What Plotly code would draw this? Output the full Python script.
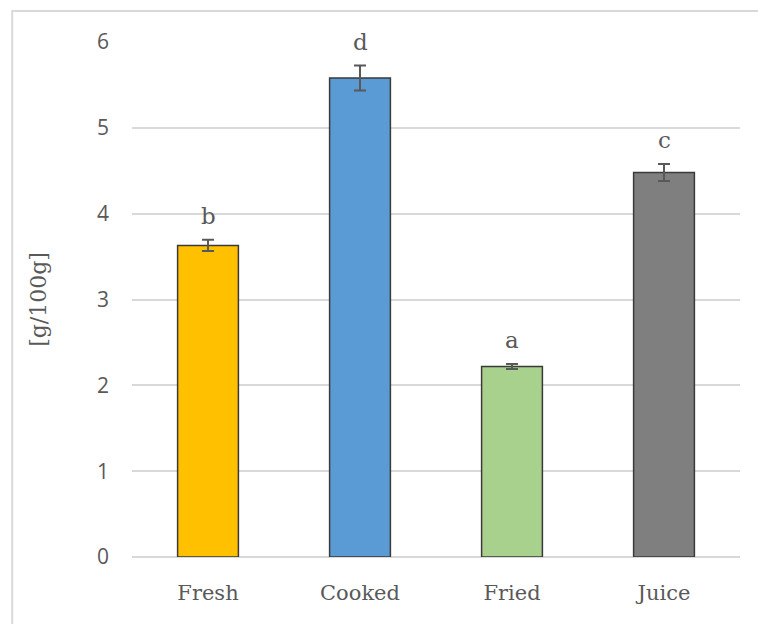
import plotly.graph_objects as go

categories = ["Fresh", "Cooked", "Fried", "Juice"]
values = [3.63, 5.58, 2.22, 4.48]
errors = [0.066, 0.146, 0.03, 0.10]
letters = ["b", "d", "a", "c"]
colors = ["#FFC000", "#5B9BD5", "#A9D18E", "#7F7F7F"]
y_ticks = [0, 1, 2, 3, 4, 5, 6]

serif = "DejaVu Serif"

fig = go.Figure(
    go.Bar(
        x=categories,
        y=values,
        width=0.4,
        marker=dict(color=colors, line=dict(color="#3a3a3a", width=1.5)),
        error_y=dict(type="data", array=errors, visible=True,
                     color="#595959", thickness=2, width=6),
        showlegend=False,
    )
)

for cat, v, e, lab in zip(categories, values, errors, letters):
    fig.add_annotation(x=cat, y=v + e, text=lab, showarrow=False,
                       xref="x", yref="y", yanchor="bottom", yshift=9,
                       font=dict(family=serif, size=23, color="#595959"))

# chart outline
fig.add_shape(type="rect", xref="paper", yref="paper",
              x0=-0.197, x1=1.2, y0=-0.3, y1=1.060,
              line=dict(color="#d9d9d9", width=2), layer="below")

fig.update_layout(
    width=758, height=624,
    margin=dict(l=132, r=18, t=42, b=67),
    paper_bgcolor="white", plot_bgcolor="white",
    bargap=0.6,
    xaxis=dict(showgrid=False, showline=False, ticks="",
               tickfont=dict(family=serif, size=21, color="#595959"),
               ticklabelstandoff=21),
    yaxis=dict(range=[0, 6], tickvals=y_ticks, showline=False,
               gridcolor="#d9d9d9", gridwidth=1.5,
               zeroline=True, zerolinecolor="#d9d9d9", zerolinewidth=1.5,
               tickfont=dict(family="Open Sans", size=21, color="#595959"),
               ticklabelstandoff=22,
               title=dict(text="[g/100g]", standoff=44,
                          font=dict(family=serif, size=22, color="#595959"))),
)

fig.write_html("out.html")
